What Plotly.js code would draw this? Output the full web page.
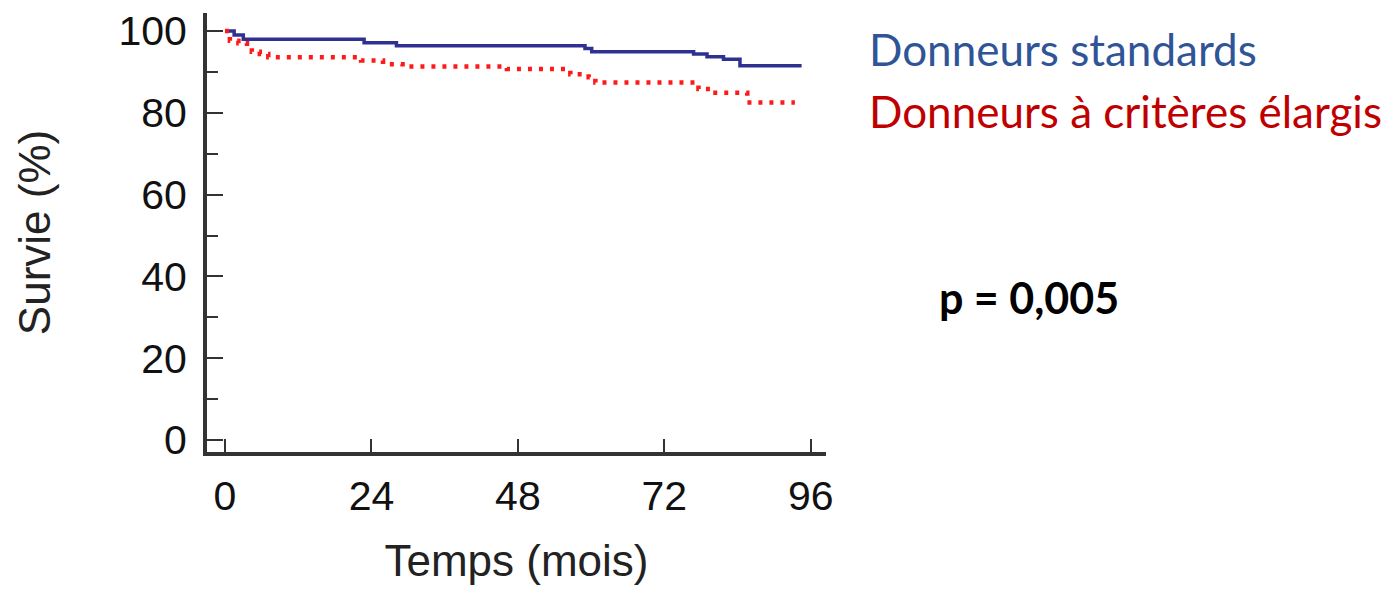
<!DOCTYPE html>
<html>
<head>
<meta charset="utf-8">
<script src="https://cdn.plot.ly/plotly-3.0.1.min.js"></script>
<style>html,body{margin:0;padding:0;background:#fff;}#chart{width:1388px;height:594px;}</style>
</head>
<body>
<div id="chart"></div>
<script>
// Survival data (months, %)
const standardTime = [0, 1.5, 3, 22.8, 28.1, 59.0, 60.1, 76.8, 79.0, 81.7, 84.4, 94.5];
const standardSurv = [100, 99, 98, 97.1, 96.4, 95.7, 94.9, 94.4, 93.7, 93.1, 91.5, 91.5];
const extendedTime = [0, 0.8, 2.2, 3.6, 4.4, 5.7, 7.1, 22.3, 25.9, 29.1, 46.2, 56.6, 59.6, 60.7, 77.6, 79.5, 85.6, 93.4];
const extendedSurv = [100, 97.6, 97.0, 96.3, 94.9, 94.4, 93.6, 92.8, 91.9, 91.3, 90.7, 89.4, 88.7, 87.4, 85.8, 84.9, 82.5, 82.5];
const xTicks = [0, 24, 48, 72, 96];
const yTicks = [0, 20, 40, 60, 80, 100];
const seriesNames = ["Donneurs standards", "Donneurs à critères élargis"];
const pText = "p = 0,005";

const axisFont = {family: "Liberation Sans, Arial, sans-serif", size: 41, color: "#111"};
const titleFont = {family: "Liberation Sans, Arial, sans-serif", size: 44, color: "#222"};

const traces = [
  {x: standardTime, y: standardSurv, mode: "lines", name: seriesNames[0],
   line: {shape: "hv", color: "#2e3192", width: 3.5}},
  {x: extendedTime, y: extendedSurv, mode: "lines", name: seriesNames[1],
   line: {shape: "hv", color: "#ff1a1a", width: 4.5, dash: "4px,7px"}}
];

const layout = {
  width: 1388, height: 594,
  margin: {l: 207, r: 562, t: 13, b: 142},
  paper_bgcolor: "#fff", plot_bgcolor: "#fff",
  showlegend: false,
  xaxis: {
    range: [-2.95, 98.5], tickvals: xTicks, ticktext: xTicks.map(String),
    showgrid: false, zeroline: false, showline: true, linecolor: "#333", linewidth: 4,
    ticks: "inside", ticklen: 13, tickwidth: 2, tickcolor: "#333",
    tickfont: axisFont, ticklabelstandoff: 5,
    title: {text: "Temps (mois)", font: titleFont, standoff: 28}
  },
  yaxis: {
    range: [-2.93, 104.4], tickvals: yTicks, ticktext: yTicks.map(String),
    showgrid: false, zeroline: false, showline: true, linecolor: "#333", linewidth: 4,
    ticks: "inside", ticklen: 16, tickwidth: 2, tickcolor: "#333",
    minor: {dtick: 10, tick0: 0, ticks: "inside", ticklen: 11, tickwidth: 2, tickcolor: "#333", showgrid: false},
    tickfont: axisFont, ticklabelstandoff: 8,
    title: {text: "Survie (%)", font: titleFont, standoff: 55}
  },
  annotations: [
    {xref: "paper", yref: "paper", x: 1.066, y: 0.918, xanchor: "left", yanchor: "middle", showarrow: false,
     text: seriesNames[0], font: {family: "Lato, Carlito, sans-serif", size: 44, color: "#2f5597"}},
    {xref: "paper", yref: "paper", x: 1.066, y: 0.777, xanchor: "left", yanchor: "middle", showarrow: false,
     text: seriesNames[1], font: {family: "Lato, Carlito, sans-serif", size: 44, color: "#c00000"}},
    {xref: "paper", yref: "paper", x: 1.179, y: 0.351, xanchor: "left", yanchor: "middle", showarrow: false,
     text: "<b>" + pText + "</b>", font: {family: "Lato, Carlito, sans-serif", size: 43, color: "#000"}}
  ]
};

Plotly.newPlot("chart", traces, layout, {staticPlot: true, displayModeBar: false});
</script>
</body>
</html>
